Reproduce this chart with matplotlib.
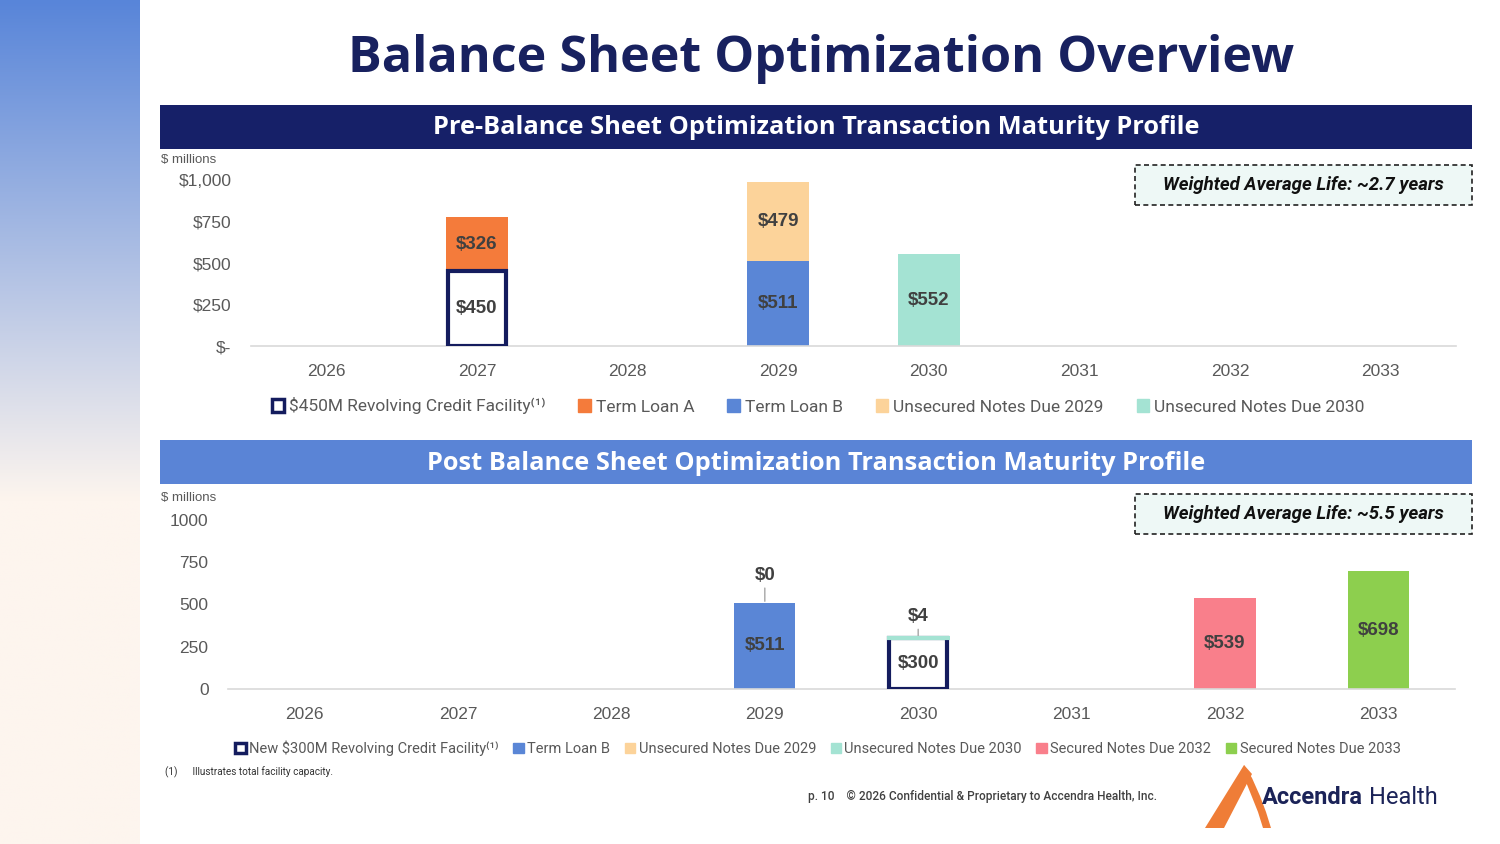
import numpy as np
import matplotlib.pyplot as plt
from matplotlib.patches import Rectangle, Patch, Polygon

plt.rcParams['font.family'] = ['Roboto', 'DejaVu Sans']

W, H = 1500, 844

# data ($ millions)
years = ['2026', '2027', '2028', '2029', '2030', '2031', '2032', '2033']

pre_revolver = [0, 450, 0, 0, 0, 0, 0, 0]
pre_term_a = [0, 326, 0, 0, 0, 0, 0, 0]
pre_term_b = [0, 0, 0, 511, 0, 0, 0, 0]
pre_unsec_2029 = [0, 0, 0, 479, 0, 0, 0, 0]
pre_unsec_2030 = [0, 0, 0, 0, 552, 0, 0, 0]

post_revolver = [0, 0, 0, 0, 300, 0, 0, 0]
post_term_b = [0, 0, 0, 511, 0, 0, 0, 0]
post_unsec_2029 = [0, 0, 0, 0, 0, 0, 0, 0]
post_unsec_2030 = [0, 0, 0, 0, 4, 0, 0, 0]
post_sec_2032 = [0, 0, 0, 0, 0, 0, 539, 0]
post_sec_2033 = [0, 0, 0, 0, 0, 0, 0, 698]

pre_ticks = [0, 250, 500, 750, 1000]
pre_ticklabels = ['$-', '$250', '$500', '$750', '$1,000']
post_ticks = [0, 250, 500, 750, 1000]
post_ticklabels = ['0', '250', '500', '750', '1000']

NAVY = '#141c5e'
C_TLA = '#f47b3b'
C_TLB = '#5a86d6'
C_U29 = '#fcd39a'
C_U30 = '#a4e3d3'
C_S32 = '#f97f8b'
C_S33 = '#8dcf4e'
LBL = '#404040'
TICK = '#595959'
ARIAL = ['Liberation Sans', 'DejaVu Sans']


def fx(x):
    return x / W


def fy(y):
    return 1 - y / H


fig = plt.figure(figsize=(15, 8.44), dpi=100)
fig.patch.set_facecolor('white')

# left gradient strip: blue at top fading to cream by ~y=500
strip = fig.add_axes([0, 0, fx(140), 1])
top = np.array([0x58, 0x85, 0xd9]) / 255
bot = np.array([0xfd, 0xf5, 0xee]) / 255
t = np.clip(np.linspace(0, 844 / 500, 400), 0, 1)[:, None, None]
grad = top * (1 - t) + bot * t
strip.imshow(grad, aspect='auto', extent=[0, 1, 0, 1])
strip.axis('off')

# title
fig.text(fx(821), fy(59), 'Balance Sheet Optimization Overview', ha='center', va='center',
         fontsize=36.3, fontweight='bold', color='#18215f', family=['Open Sans', 'DejaVu Sans'])

# section headers
for y0, col, txt in [(105, '#162068', 'Pre-Balance Sheet Optimization Transaction Maturity Profile'),
                     (440, '#5a84d6', 'Post Balance Sheet Optimization Transaction Maturity Profile')]:
    fig.patches.append(Rectangle((fx(160), fy(y0 + 44)), fx(1312), 44 / H, transform=fig.transFigure,
                                 facecolor=col, edgecolor='none'))
    fig.text(fx(816), fy(y0 + 23), txt, ha='center', va='center', fontsize=18.3,
             fontweight='bold', color='white', family=['Open Sans', 'DejaVu Sans'])


def style_axes(ax, ticks, ticklabels):
    ax.set_xlim(-0.5, 7.5)
    ax.set_ylim(0, 1000)
    ax.set_yticks(ticks)
    ax.set_yticklabels(ticklabels)
    ax.set_xticks(range(len(years)))
    ax.set_xticklabels(years)
    for s in ['top', 'right', 'left']:
        ax.spines[s].set_visible(False)
    ax.spines['bottom'].set_color('#d9d9d9')
    ax.spines['bottom'].set_linewidth(1.2)
    ax.tick_params(length=0, labelsize=12.5, colors=TICK, pad=13)
    ax.tick_params(axis='y', pad=14)
    ax.set_facecolor('none')
    for lab in ax.get_xticklabels() + ax.get_yticklabels():
        lab.set_fontfamily(ARIAL)


def seg_labels(ax, x, vals, bottoms):
    for i, (v, b) in enumerate(zip(vals, bottoms)):
        if v > 20:
            ax.text(x[i], b + v / 2, f'${v}', ha='center', va='center', fontsize=13.5,
                    fontweight='bold', color=LBL, family=ARIAL)


def draw_stack(ax, series, bw):
    bottom = np.zeros(len(years))
    for vals, fc, ec in series:
        vals = np.array(vals)
        m = vals > 0
        if ec == NAVY:
            ax.bar(x[m], vals[m], bw - 0.02, bottom=bottom[m], color=fc, edgecolor=ec,
                   linewidth=3, zorder=3)
        elif ec:
            ax.bar(x[m], vals[m], bw + 0.01, bottom=bottom[m], color=fc, edgecolor=ec,
                   linewidth=3, zorder=4)
        else:
            ax.bar(x[m], vals[m], bw, bottom=bottom[m], color=fc, zorder=2)
        seg_labels(ax, x, vals, bottom)
        bottom = bottom + vals
    return bottom


x = np.arange(len(years))

# ---- pre chart ----
ax1 = fig.add_axes([fx(251), fy(346), fx(1205), 166 / H])
style_axes(ax1, pre_ticks, pre_ticklabels)
draw_stack(ax1, [(pre_revolver, 'white', NAVY), (pre_term_a, C_TLA, None), (pre_term_b, C_TLB, None),
                 (pre_unsec_2029, C_U29, None), (pre_unsec_2030, C_U30, None)], 0.41)

# ---- post chart ----
ax2 = fig.add_axes([fx(228), fy(689), fx(1227), 169 / H])
style_axes(ax2, post_ticks, post_ticklabels)
draw_stack(ax2, [(post_revolver, 'white', NAVY), (post_term_b, C_TLB, None), (post_unsec_2029, C_U29, None),
                 (post_unsec_2030, C_U30, C_U30), (post_sec_2032, C_S32, None), (post_sec_2033, C_S33, None)],
           0.40)

# small segments labelled above with leader lines
base = np.array(post_revolver) + np.array(post_term_b)
for i, v, off in [(3, post_unsec_2029[3], 13.5), (4, post_unsec_2030[4], 9)]:
    ax2.annotate(f'${v}', xy=(x[i], base[i] + v), xytext=(0, off), textcoords='offset points',
                 ha='center', va='bottom', fontsize=13.5, fontweight='bold', color=LBL,
                 family=ARIAL,
                 arrowprops=dict(arrowstyle='-', color='#a6a6a6', lw=1, shrinkA=1, shrinkB=1))

# $ millions labels
for y0 in [160, 498]:
    fig.text(fx(161), fy(y0), '$ millions', ha='left', va='center', fontsize=9.5, color=TICK,
             family=ARIAL)

# weighted average life boxes
for y0, txt in [(165, 'Weighted Average Life: ~2.7 years'), (494, 'Weighted Average Life: ~5.5 years')]:
    fig.patches.append(Rectangle((fx(1135), fy(y0 + 40)), fx(337), 40 / H, transform=fig.transFigure,
                                 facecolor='#eef8f6', edgecolor='#222222', linestyle=(0, (3, 2)),
                                 linewidth=1.2))
    fig.text(fx(1303), fy(y0 + 20), txt, ha='center', va='center', fontsize=13.4,
             fontweight='bold', fontstyle='italic', color='#111111')

# legends
pre_handles = [Patch(facecolor='white', edgecolor=NAVY, linewidth=2.5), Patch(color=C_TLA),
               Patch(color=C_TLB), Patch(color=C_U29), Patch(color=C_U30)]
pre_labels = ['$450M Revolving Credit Facility\u207d\u00b9\u207e', 'Term Loan A', 'Term Loan B',
              'Unsecured Notes Due 2029', 'Unsecured Notes Due 2030']
fig.legend(pre_handles, pre_labels, loc='center', bbox_to_anchor=(fx(818), fy(406)), ncol=5,
           frameon=False, fontsize=12.5, handlelength=0.7, handleheight=0.7, handletextpad=0.3,
           columnspacing=1.9, labelcolor=TICK)

post_handles = [Patch(facecolor='white', edgecolor=NAVY, linewidth=2.5), Patch(color=C_TLB),
                Patch(color=C_U29), Patch(color=C_U30), Patch(color=C_S32), Patch(color=C_S33)]
post_labels = ['New $300M Revolving Credit Facility\u207d\u00b9\u207e', 'Term Loan B', 'Unsecured Notes Due 2029',
               'Unsecured Notes Due 2030', 'Secured Notes Due 2032', 'Secured Notes Due 2033']
fig.legend(post_handles, post_labels, loc='center', bbox_to_anchor=(fx(818), fy(748)), ncol=6,
           frameon=False, fontsize=10.5, handlelength=0.7, handleheight=0.7, handletextpad=0.25,
           columnspacing=1.0, labelcolor=TICK)

# footnote and footer
fig.text(fx(165), fy(772), '(1)      Illustrates total facility capacity.', ha='left', va='center',
         fontsize=7.2, color='#333333')
fig.text(fx(808), fy(796), 'p. 10    \u00a9 2026 Confidential & Proprietary to Accendra Health, Inc.',
         ha='left', va='center', fontsize=8.6, fontweight='medium', color='#404040')

# logo
ORANGE = '#ef7d37'
left_leg = [(1205, 828), (1224, 828), (1252, 774), (1244, 765)]
right_leg = [(1244, 765), (1252, 778), (1260, 796), (1266, 812), (1271, 828),
             (1263, 828), (1258, 812), (1252, 797), (1246, 782)]
for pts in [left_leg, right_leg]:
    fig.patches.append(Polygon([(fx(a), fy(b)) for a, b in pts], closed=True,
                               transform=fig.transFigure, facecolor=ORANGE, edgecolor='none'))
brand = fig.text(fx(1262), fy(797), 'Accendra', ha='left', va='center', fontsize=17,
                 fontweight='bold', color='#1b2358')
fig.canvas.draw()
bb = brand.get_window_extent()
fig.text(bb.x1 / W + fx(6), fy(797), 'Health', ha='left', va='center', fontsize=17, color='#1b2358')

fig.savefig('out.png', dpi=100)
